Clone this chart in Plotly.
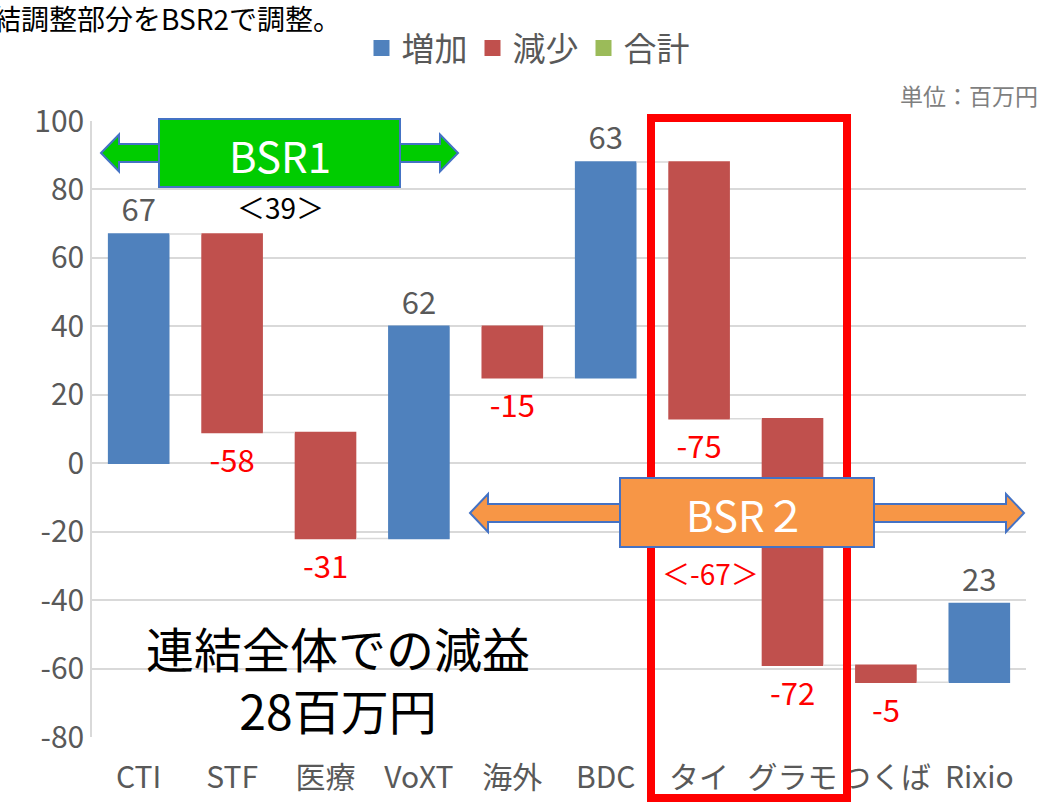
import plotly.graph_objects as go

categories = ["CTI", "STF", "医療", "VoXT", "海外", "BDC", "タイ", "グラモ", "つくば", "Rixio"]
values = [67, -58, -31, 62, -15, 63, -75, -72, -5, 23]
legend_names = ["増加", "減少", "合計"]
legend_colors = ["#4F81BD", "#C0504D", "#9BBB59"]
y_ticks = [-80, -60, -40, -20, 0, 20, 40, 60, 80, 100]

FONT = "Noto Sans CJK JP"
L, R, T, B = 92, 16, 121, 66
W_PX, H_PX = 1042, 803
PW, PH = W_PX - L - R, H_PX - T - B


def px(x):
    return (x - L) / PW


def py(y):
    return (H_PX - B - y) / PH


fig = go.Figure()

fig.add_trace(go.Waterfall(
    x=categories,
    y=values,
    measure=["relative"] * len(values),
    increasing=dict(marker=dict(color=legend_colors[0])),
    decreasing=dict(marker=dict(color=legend_colors[1])),
    connector=dict(line=dict(color="#D9D9D9", width=1.5)),
    text=[str(v) for v in values],
    textposition="outside",
    constraintext="none",
    textfont=dict(family=FONT, size=31,
                  color=["#595959" if v > 0 else "#FF0000" for v in values]),
    texttemplate="%{text}",
    cliponaxis=False,
    showlegend=False,
))

for name, color in zip(legend_names, legend_colors):
    fig.add_trace(go.Scatter(
        x=[None], y=[None], mode="markers", name=name,
        marker=dict(symbol="square", size=20, color=color),
    ))


def arrow_path(x_left, x_right, head_len, y_mid, shaft_half, head_half):
    pts = [
        (x_left, y_mid),
        (x_left + head_len, y_mid - head_half),
        (x_left + head_len, y_mid - shaft_half),
        (x_right - head_len, y_mid - shaft_half),
        (x_right - head_len, y_mid - head_half),
        (x_right, y_mid),
        (x_right - head_len, y_mid + head_half),
        (x_right - head_len, y_mid + shaft_half),
        (x_left + head_len, y_mid + shaft_half),
        (x_left + head_len, y_mid + head_half),
    ]
    s = "M " + " L ".join(f"{px(a):.5f},{py(b):.5f}" for a, b in pts) + " Z"
    return s


shapes = []
# red highlight frame
shapes.append(dict(type="rect", xref="paper", yref="paper",
                   x0=px(651), x1=px(847), y0=py(798), y1=py(118),
                   line=dict(color="#FF0000", width=8), fillcolor="rgba(0,0,0,0)",
                   layer="above"))
# BSR1 arrow
shapes.append(dict(type="path", xref="paper", yref="paper",
                   path=arrow_path(101, 458, 18, 153, 9, 18.5),
                   fillcolor="#00CC00", line=dict(color="#4472C4", width=2), layer="above"))
shapes.append(dict(type="rect", xref="paper", yref="paper",
                   x0=px(159), x1=px(400), y0=py(187), y1=py(119),
                   fillcolor="#00CC00", line=dict(color="#4472C4", width=2), layer="above"))
# BSR2 arrow
shapes.append(dict(type="path", xref="paper", yref="paper",
                   path=arrow_path(470, 1024, 18, 513, 9, 19),
                   fillcolor="#F79646", line=dict(color="#4472C4", width=2), layer="above"))
shapes.append(dict(type="rect", xref="paper", yref="paper",
                   x0=px(620), x1=px(874), y0=py(547), y1=py(478),
                   fillcolor="#F79646", line=dict(color="#4472C4", width=2), layer="above"))

annotations = [
    dict(text="BSR1", x=px(280), y=py(154), font=dict(size=42, color="white", family=FONT)),
    dict(text="＜39＞", x=px(280), y=py(207), font=dict(size=28, color="black", family=FONT)),
    dict(text="BSR２", x=px(746), y=py(513), font=dict(size=42, color="white", family=FONT)),
    dict(text="＜-67＞", x=px(710), y=py(573), font=dict(size=28, color="#FF0000", family=FONT)),
    dict(text="連結全体での減益<br>28百万円", x=px(338), y=py(678), align="center",
         font=dict(size=48, color="black", family=FONT)),
    dict(text="単位：百万円", x=px(1040), y=py(95), xanchor="right",
         font=dict(size=23, color="#7F7F7F", family=FONT)),
    dict(text="連結調整部分をBSR2で調整。", x=px(343), y=py(18), xanchor="right",
         font=dict(size=28, color="black", family=FONT)),
]
for a in annotations:
    a.setdefault("xanchor", "center")
    a.update(xref="paper", yref="paper", yanchor="middle", showarrow=False)

fig.update_layout(
    width=W_PX, height=H_PX,
    margin=dict(l=L, r=R, t=T, b=B),
    plot_bgcolor="white", paper_bgcolor="white",
    waterfallgap=0.34,
    font=dict(family=FONT, color="#595959"),
    legend=dict(orientation="h", x=px(528), xanchor="center", y=py(48), yanchor="middle",
                font=dict(size=33, color="#595959", family=FONT), itemwidth=30,
                bgcolor="rgba(0,0,0,0)"),
    shapes=shapes,
    annotations=annotations,
)
fig.update_xaxes(showgrid=False, showline=False, ticks="", ticklabelstandoff=20,
                 automargin=False,
                 tickfont=dict(size=30, color="#595959", family=FONT))
fig.update_yaxes(range=[-80, 100], tickvals=y_ticks, ticktext=[str(v) for v in y_ticks],
                 automargin=False,
                 showgrid=True, gridcolor="#D9D9D9",
                 gridwidth=1.5, zeroline=False, showline=True, linecolor="#D9D9D9",
                 linewidth=1.5, ticks="", tickfont=dict(size=30, color="#595959", family=FONT))

fig.write_html("out.html", config={"displayModeBar": False},
               post_script="document.body.style.margin='0';document.body.style.overflow='hidden';")
